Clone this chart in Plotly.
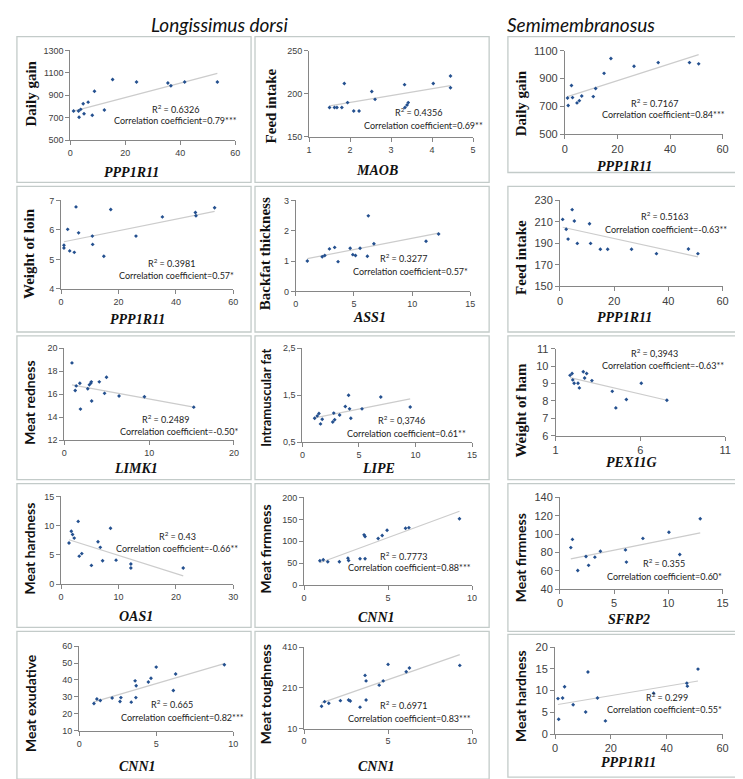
import plotly.graph_objects as go

W, H = 743, 779

# ------------------------------------------------------------------ data
p1_x = [1.2, 3.0, 3.2, 3.8, 4.7, 5.0, 6.5, 8.0, 8.8, 12.4, 15.4, 24.1, 35.5, 36.6, 41.6, 53.5]
p1_y = [759, 759, 703, 774, 824, 735, 838, 721, 935, 768, 1041, 1018, 1009, 985, 1018, 1018]
p1_tx, p1_ty = [1.2, 53.5], [758, 1095]

p2_x = [1.50, 1.62, 1.68, 1.80, 1.86, 1.94, 2.09, 2.22, 2.53, 2.61, 3.33, 3.34, 3.39, 3.42, 4.03, 4.45, 4.45]
p2_y = [184, 184, 184, 184, 212, 189.7, 180, 180, 202.7, 193.5, 210.6, 184, 187, 189.7, 212, 220.6, 207]
p2_tx, p2_ty = [1.5, 4.45], [185.9, 209.5]

p3_x = [1.0, 1.25, 2.5, 2.9, 4.6, 5.5, 6.4, 10.8, 11.7, 14.9, 17.5, 26.3, 35.5, 47.4, 50.9]
p3_y = [761, 707, 851, 764, 726, 742, 775, 771, 829, 938, 1044, 989, 1015, 1015, 1006]
p3_tx, p3_ty = [1.0, 50.9], [771, 1072]

p4_x = [1.0, 1.0, 2.3, 3.0, 4.6, 5.2, 6.1, 10.9, 11.0, 14.9, 17.3, 26.1, 35.3, 46.8, 47.0, 53.5]
p4_y = [5.48, 5.39, 6.02, 5.29, 5.24, 6.78, 5.90, 5.79, 5.51, 5.11, 6.69, 5.79, 6.44, 6.59, 6.48, 6.75]
p4_tx, p4_ty = [1.0, 53.5], [5.6, 6.63]

p5_x = [0.99, 2.27, 2.49, 2.89, 3.34, 3.63, 4.67, 4.90, 5.13, 5.52, 6.15, 6.23, 6.71, 11.19, 12.27]
p5_y = [1.0, 1.14, 1.18, 1.40, 1.45, 0.98, 1.42, 1.21, 1.18, 1.42, 1.16, 2.49, 1.57, 1.65, 1.89]
p5_tx, p5_ty = [0.99, 12.27], [1.08, 1.92]

p6_x = [1.0, 2.3, 3.0, 4.5, 5.3, 6.4, 10.9, 11.3, 14.9, 17.6, 26.4, 35.6, 47.4, 50.9]
p6_y = [212.3, 203.1, 194, 221.4, 210.8, 190, 208.3, 190, 184.5, 184.5, 184.5, 180.5, 184.8, 180.5]
p6_tx, p6_ty = [1.0, 50.9], [205, 177.5]

p7_x = [0.9, 1.28, 1.40, 1.83, 1.90, 2.76, 2.95, 3.11, 3.18, 3.22, 4.12, 4.74, 4.97, 6.45, 9.44, 15.26]
p7_y = [18.71, 16.31, 16.71, 16.94, 14.69, 16.46, 16.8, 16.94, 17.06, 15.4, 17.06, 16.06, 17.46, 15.83, 15.77, 14.86]
p7_tx, p7_ty = [0.9, 15.26], [16.8, 14.86]

p8_x = [1.08, 1.31, 1.46, 1.60, 1.75, 2.68, 2.77, 2.85, 3.29, 3.79, 4.08, 4.17, 4.28, 5.27, 6.93, 9.53]
p8_y = [1.01, 1.06, 1.11, 0.89, 0.99, 0.93, 1.12, 0.98, 1.08, 1.26, 1.50, 1.21, 1.01, 1.21, 1.46, 1.25]
p8_tx, p8_ty = [1.08, 9.53], [1.02, 1.42]

p9_x = [1.85, 1.97, 2.01, 2.09, 2.32, 2.40, 2.63, 2.71, 2.83, 3.14, 4.34, 4.55, 5.17, 6.05, 7.56]
p9_y = [9.47, 9.58, 9.21, 9.02, 9.02, 8.75, 9.68, 9.32, 9.58, 9.17, 8.55, 7.6, 8.08, 9.02, 8.04]
p9_tx, p9_ty = [1.85, 7.56], [9.34, 8.04]

p10_x = [1.38, 1.78, 2.0, 2.29, 2.98, 3.16, 3.61, 5.28, 6.43, 6.83, 7.23, 8.61, 9.58, 12.16, 12.16, 21.28]
p10_y = [7.02, 9.04, 8.48, 7.87, 10.73, 4.78, 5.22, 3.2, 7.25, 6.29, 3.99, 9.55, 4.1, 3.43, 2.75, 2.75]
p10_tx, p10_ty = [1.38, 21.28], [7.58, 1.40]

p11_x = [0.94, 1.14, 1.41, 2.10, 2.61, 2.65, 3.33, 3.57, 3.63, 3.63, 4.41, 4.65, 4.94, 6.04, 6.24, 9.25]
p11_y = [55.4, 57.7, 53.2, 53.2, 61.4, 56.2, 60, 114.6, 110.9, 60, 106.4, 113.1, 125.1, 129.6, 131.1, 151.3]
p11_tx, p11_ty = [0.94, 9.25], [51, 168.5]

p12_x = [1.0, 1.15, 1.64, 2.40, 2.64, 3.22, 3.73, 6.04, 6.13, 7.65, 10.05, 11.05, 12.94]
p12_y = [85.4, 94.3, 60.4, 75.7, 66.1, 75, 81.4, 82.9, 69.6, 95.4, 102.1, 77.9, 116.8]
p12_tx, p12_ty = [1.0, 12.94], [73.2, 101.4]

p13_x = [0.96, 1.15, 1.37, 2.14, 2.65, 2.71, 3.38, 3.63, 3.70, 3.68, 4.49, 4.66, 5.0, 6.11, 6.26, 9.42]
p13_y = [26.1, 28.8, 27.9, 29.4, 27.3, 29.6, 26.9, 39.5, 36.6, 29.6, 38.8, 41, 47.6, 33.8, 43.5, 49]
p13_tx, p13_ty = [0.96, 9.42], [27.1, 49.7]

p14_x = [1.04, 1.22, 1.47, 2.16, 2.65, 2.75, 3.33, 3.63, 3.69, 3.69, 4.47, 4.71, 5.0, 6.08, 6.27, 9.27]
p14_y = [119.6, 142, 134, 147, 150, 145, 115, 271, 244, 150, 223, 244, 325, 289, 307, 320]
p14_tx, p14_ty = [1.04, 9.27], [136, 373]

p15_x = [1.06, 1.3, 2.71, 3.42, 6.49, 10.97, 11.79, 15.2, 18.04, 35.3, 47.2, 47.4, 51.2]
p15_y = [8.15, 3.4, 8.3, 10.87, 6.72, 5.06, 14.26, 8.3, 3.02, 9.4, 11.7, 11.02, 14.94]
p15_tx, p15_ty = [1.06, 51.2], [6.8, 12.2]

points_x = [p1_x, p2_x, p3_x, p4_x, p5_x, p6_x, p7_x, p8_x, p9_x, p10_x, p11_x, p12_x, p13_x, p14_x, p15_x]
points_y = [p1_y, p2_y, p3_y, p4_y, p5_y, p6_y, p7_y, p8_y, p9_y, p10_y, p11_y, p12_y, p13_y, p14_y, p15_y]
trend_x = [p1_tx, p2_tx, p3_tx, p4_tx, p5_tx, p6_tx, p7_tx, p8_tx, p9_tx, p10_tx, p11_tx, p12_tx, p13_tx, p14_tx, p15_tx]
trend_y = [p1_ty, p2_ty, p3_ty, p4_ty, p5_ty, p6_ty, p7_ty, p8_ty, p9_ty, p10_ty, p11_ty, p12_ty, p13_ty, p14_ty, p15_ty]

x_titles = ["PPP1R11", "MAOB", "PPP1R11", "PPP1R11", "ASS1", "PPP1R11", "LIMK1", "LIPE", "PEX11G",
            "OAS1", "CNN1", "SFRP2", "CNN1", "CNN1", "PPP1R11"]
y_titles = ["Daily gain", "Feed intake", "Daily gain", "Weight of loin", "Backfat thickness", "Feed intake",
            "Meat redness", "Intramuscular fat", "Weight of ham", "Meat hardness", "Meat firmness",
            "Meat firmness", "Meat exudative", "Meat toughness", "Meat hardness"]
r2_labels = ["0.6326", "0.4356", "0.7167", "0.3981", "0.3277", "0.5163", "0.2489", "0,3746", "0,3943",
             "0.43", "0.7773", "0.355", "0.665", "0.6971", "0.299"]
cc_labels = ["0.79***", "0.69**", "0.84***", "0.57*", "0.57*", "-0.63**", "-0.50*", "0.61**", "-0.63**",
             "-0.66**", "0.88***", "0.60*", "0.82***", "0.83***", "0.55*"]
x_ranges = [[0, 60], [1, 5], [0, 60], [0, 60], [0, 15], [0, 60], [0, 20], [0, 15], [1, 11],
            [0, 30], [0, 10], [0, 15], [0, 10], [0, 10], [0, 60]]
x_dticks = [20, 1, 20, 20, 5, 20, 10, 5, 5, 10, 5, 5, 5, 5, 20]
y_ranges = [[500, 1300], [150, 250], [500, 1100], [4, 7], [0, 3], [150, 230], [12, 20], [0.5, 2.5], [6, 11],
            [0, 15], [0, 200], [40, 140], [10, 60], [10, 410], [0, 20]]
y_dticks = [200, 50, 200, 1, 1, 20, 2, 1, 1, 5, 50, 20, 10, 200, 5]
p8_ytickvals = [0.5, 1.5, 2.5]
p8_yticktext = ["0,5", "1,5", "2,5"]
col_titles = ["Longissimus dorsi", "Semimembranosus"]

# ------------------------------------------------------------------ layout (pixels)
plot_x = [[60, 227], [301.7, 467.7], [560.7, 720.3], [50.7, 225], [288.3, 465], [555.7, 720.3],
          [54, 225.7], [295, 466.7], [551.3, 723], [50.7, 225], [296.7, 466.7], [555.7, 720.3],
          [69, 225], [296.7, 466.7], [550.7, 720.3]]
plot_y = [[37, 128], [37.3, 124.7], [37.3, 122.3], [189.3, 279.3], [189.3, 281.7], [189.3, 276.7],
          [339.3, 432.7], [339.3, 435], [340, 428.3], [490, 579], [491, 580], [491, 584.3],
          [642, 728], [643, 725.7], [643, 731.3]]
r2_pos = [(167, 96), (412, 100), (651, 90), (162, 253), (397, 248), (662, 205), (156, 411), (395, 412),
          (651, 344), (169, 530), (397, 550), (661, 558), (163, 701), (397, 702), (664, 694)]
cc_pos = [(167, 108.5), (418, 113.5), (660, 102.5), (168, 265.5), (404, 261.5), (663, 218.5), (170, 424.5),
          (400, 426.5), (660, 356.5), (168, 543), (403, 562.5), (662, 571.5), (174, 714.5), (403, 715.5),
          (662, 706.5)]
xt_pos = [(122, 161), (370, 159), (621, 155), (128, 310), (363, 308), (621, 308), (127, 462), (372, 462),
          (628, 456), (127, 612), (370, 613), (626, 615), (128, 764), (370, 764), (625, 760)]
yt_pos = [(20, 81), (263, 93), (516, 91), (18, 243), (257, 243), (516, 247), (19, 395), (258, 390),
          (516, 402), (19, 543), (258, 543), (516, 552), (19, 700), (257, 691), (516, 693)]
yt_serif = [True, True, True, True, True, True, False, False, True, False, False, False, False, False, False]
tick_size = [9, 9, 11, 9, 9, 11, 9, 9, 11, 9, 9, 11, 9, 9, 11]
boxes = [(6, 23, 243, 171), (247, 23, 484, 171), (503, 23, 740, 161),
         (6, 175, 243, 323), (247, 175, 484, 323), (503, 175, 740, 323),
         (6, 327, 243, 473), (247, 327, 484, 473), (503, 327, 740, 473),
         (6, 477, 243, 623), (247, 477, 484, 623), (503, 477, 740, 627),
         (6, 627, 243, 777), (247, 627, 484, 777), (503, 630, 740, 775)]


def px(x):
    return x / W


def py(y):
    return 1 - y / H


AXIS_COLOR = "#868686"
TEXT_COLOR = "#404040"
MARKER_COLOR = "#24508f"
TREND_COLOR = "#cccccc"

fig = go.Figure()
layout = dict(width=W, height=H, margin=dict(l=0, r=0, t=0, b=0), showlegend=False,
              paper_bgcolor="white", plot_bgcolor="white")
annotations = []
shapes = []

for i in range(15):
    n = i + 1
    sx = "" if n == 1 else str(n)
    fig.add_trace(go.Scatter(x=trend_x[i], y=trend_y[i], mode="lines",
                             line=dict(color=TREND_COLOR, width=1.2),
                             xaxis="x" + sx, yaxis="y" + sx, hoverinfo="skip"))
    fig.add_trace(go.Scatter(x=points_x[i], y=points_y[i], mode="markers",
                             marker=dict(color=MARKER_COLOR, size=3, symbol="diamond"),
                             xaxis="x" + sx, yaxis="y" + sx))
    common = dict(showgrid=False, zeroline=False, showline=True, linecolor=AXIS_COLOR, linewidth=1,
                  ticks="outside", ticklen=4, tickcolor=AXIS_COLOR, tickwidth=1,
                  tickfont=dict(family="Liberation Sans, Arial", size=tick_size[i], color=TEXT_COLOR))
    layout["xaxis" + sx] = dict(common, domain=[px(plot_x[i][0]), px(plot_x[i][1])],
                                range=x_ranges[i], dtick=x_dticks[i], tick0=x_ranges[i][0],
                                anchor="y" + sx)
    yax = dict(common, domain=[py(plot_y[i][1]), py(plot_y[i][0])],
               range=y_ranges[i], dtick=y_dticks[i], tick0=y_ranges[i][0], anchor="x" + sx)
    if n == 8:
        yax.update(tickmode="array", tickvals=p8_ytickvals, ticktext=p8_yticktext)
    layout["yaxis" + sx] = yax

    annotations.append(dict(x=px(r2_pos[i][0]), y=py(r2_pos[i][1]), xref="paper", yref="paper",
                            text="R<sup>2</sup> = " + r2_labels[i], showarrow=False,
                            font=dict(family="Lato, Liberation Sans", size=9, color="#222222"),
                            xanchor="center", yanchor="middle"))
    annotations.append(dict(x=px(cc_pos[i][0]), y=py(cc_pos[i][1]), xref="paper", yref="paper",
                            text="Correlation coefficient=" + cc_labels[i], showarrow=False,
                            font=dict(family="Lato, Liberation Sans", size=9, color="#222222"),
                            xanchor="center", yanchor="middle"))
    annotations.append(dict(x=px(xt_pos[i][0]), y=py(xt_pos[i][1]), xref="paper", yref="paper",
                            text="<b><i>" + x_titles[i] + "</i></b>", showarrow=False,
                            font=dict(family="Liberation Serif, serif", size=14, color="#111111"),
                            xanchor="center", yanchor="middle"))
    if yt_serif[i]:
        yfont = dict(family="Liberation Serif, serif", size=15, color="#111111")
    else:
        yfont = dict(family="Lato, Liberation Sans", size=14 if n != 8 else 13, color="#111111")
    annotations.append(dict(x=px(yt_pos[i][0]), y=py(yt_pos[i][1]), xref="paper", yref="paper",
                            text="<b>" + y_titles[i] + "</b>", showarrow=False, textangle=-90,
                            font=yfont, xanchor="center", yanchor="middle"))

    x0, y0, x1, y1 = boxes[i]
    shapes.append(dict(type="rect", xref="paper", yref="paper", x0=px(x0), x1=px(x1),
                       y0=py(y1), y1=py(y0), line=dict(color="#c3cbc9", width=1.3)))

annotations.append(dict(x=px(211), y=py(11), xref="paper", yref="paper", text="<i>" + col_titles[0] + "</i>",
                        showarrow=False, font=dict(family="Lato, Open Sans", size=19, color="#111111"),
                        xanchor="center", yanchor="middle"))
annotations.append(dict(x=px(577), y=py(11), xref="paper", yref="paper", text="<i>" + col_titles[1] + "</i>",
                        showarrow=False, font=dict(family="Lato, Open Sans", size=19, color="#111111"),
                        xanchor="center", yanchor="middle"))

layout["annotations"] = annotations
layout["shapes"] = shapes
fig.update_layout(**layout)
fig.write_html("out.html")
